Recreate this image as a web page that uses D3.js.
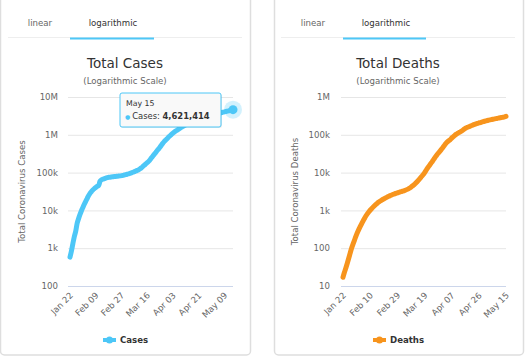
<!DOCTYPE html>
<html><head><meta charset="utf-8">
<script src="https://cdn.jsdelivr.net/npm/d3@7"></script>
<style>
html,body{margin:0;padding:0;background:#fff;}
svg{display:block;font-family:"DejaVu Sans",sans-serif;}
</style></head>
<body><svg id="c" width="526" height="360"></svg>
<script>
// ---- data ----
const startDate = new Date(2020, 0, 22);
const endDate = new Date(2020, 4, 15);
const dates = d3.timeDay.range(startDate, d3.timeDay.offset(endDate, 1));

const cases = [580,845,1317,2015,2800,4581,6058,7813,9823,11950,
14553,17391,20630,24545,28266,31439,34876,37552,40553,43099,
45134,59287,64438,67100,69197,71329,73332,75184,75700,76677,
77673,78651,79205,80087,80828,81820,83112,84615,86604,88585,
90443,93016,95314,98425,102050,106099,109991,114381,118948,126214,
134576,145483,156653,169511,182424,198159,218744,246088,275799,308175,
341585,383750,424889,475706,538666,603066,670723,730300,794939,871355,
947569,1028968,1112123,1192586,1264304,1336976,1413849,1497624,1584249,1671907,
1748872,1845653,1915247,1985174,2066003,2162715,2250439,2324396,2404919,2478258,
2554719,2630314,2719327,2806267,2891199,2964146,3032850,3108149,3185195,3268876,
3355922,3437608,3515244,3600000,3685000,3775000,3868000,3962000,4050000,4130000,
4215000,4300000,4390000,4500000,4621414];

const deaths = [17,23,30,40,54,74,100,128,162,205,
255,310,370,440,520,610,710,810,910,1010,
1110,1220,1330,1440,1550,1660,1770,1870,1970,2070,
2170,2270,2370,2460,2560,2650,2740,2820,2900,2980,
3070,3160,3254,3348,3460,3600,3780,3988,4262,4560,
4900,5350,5819,6440,7126,7905,8733,9867,11299,12973,
14623,16497,18615,21181,23970,27198,30652,33925,37582,42107,
47180,53190,59172,64715,69555,74567,81865,88338,95521,102525,
108503,114091,119482,125983,134176,143000,150800,157500,163500,169987,
176000,182500,188800,195000,200800,206000,211167,217153,222900,228400,
233700,238900,243900,248800,253600,258400,263200,268000,272700,277400,
282100,287000,292000,299000,307666];

const tabLabels = ["linear", "logarithmic"];
const casesXTicks = ["Jan 22","Feb 09","Feb 27","Mar 16","Apr 03","Apr 21","May 09"];
const deathsXTicks = ["Jan 22","Feb 10","Feb 29","Mar 19","Apr 07","Apr 26","May 15"];
const casesYTicks = [100,1e3,1e4,1e5,1e6,1e7];
const casesYLabels = ["100","1k","10k","100k","1M","10M"];
const deathsYTicks = [10,100,1e3,1e4,1e5,1e6];
const deathsYLabels = ["10","100","1k","10k","100k","1M"];

const fmtCat = d3.timeFormat("%b %d");
const fmtTip = d3.timeFormat("%b %-d");

const svg = d3.select("#c");

const panels = [
  {card:[0,250], tabs:[40,113], tabLine:[8,242], under:[70,154], cx:125,
   x0:70, x1:233, axisX:58, titleX:25,
   title:"Total Cases", ytitle:"Total Coronavirus Cases", name:"Cases",
   values:cases, color:"#4dc7f7", xticks:casesXTicks, yticks:casesYTicks, ylabels:casesYLabels,
   legendX:103, tooltip:true},
  {card:[274,523], tabs:[313,386], tabLine:[281,515], under:[343,426], cx:398,
   x0:343, x1:506, axisX:330, titleX:298,
   title:"Total Deaths", ytitle:"Total Coronavirus Deaths", name:"Deaths",
   values:deaths, color:"#f7941d", xticks:deathsXTicks, yticks:deathsYTicks, ylabels:deathsYLabels,
   legendX:373, tooltip:false}
];

const plotTop = 97, plotBottom = 286;

panels.forEach(p => {
  const g = svg.append("g");
  // card
  g.append("rect").attr("x", p.card[0] + 0.5).attr("y", -6).attr("width", p.card[1]-p.card[0]).attr("height", 361)
    .attr("rx", 4).attr("fill", "#fff").attr("stroke", "#dedede").attr("stroke-width", 1.5);
  // tabs
  g.append("line").attr("x1", p.tabLine[0]).attr("x2", p.tabLine[1]).attr("y1", 37.5).attr("y2", 37.5)
    .attr("stroke", "#eeeeee").attr("stroke-width", 1);
  g.append("line").attr("x1", p.under[0]).attr("x2", p.under[1]).attr("y1", 38.5).attr("y2", 38.5)
    .attr("stroke", "#4dc7f7").attr("stroke-width", 2);
  tabLabels.forEach((t,i) => {
    g.append("text").attr("x", p.tabs[i]).attr("y", 26).attr("text-anchor","middle")
      .attr("font-size", 8.6).attr("fill", i ? "#333" : "#666").text(t);
  });
  // titles
  g.append("text").attr("x", p.cx).attr("y", 68).attr("text-anchor","middle")
    .attr("font-size", 13.5).attr("fill", "#333").text(p.title);
  g.append("text").attr("x", p.cx).attr("y", 84).attr("text-anchor","middle")
    .attr("font-size", 8.6).attr("fill", "#666").text("(Logarithmic Scale)");

  const x = d3.scaleLinear().domain([0, p.values.length-1]).range([p.x0, p.x1]);
  const y = d3.scaleLog().domain([p.yticks[0], p.yticks[p.yticks.length-1]]).range([plotBottom, plotTop]);

  // y axis with grid
  const ya = d3.axisLeft(y).tickValues(p.yticks).tickSize(-(p.x1 - p.x0 + 2))
    .tickFormat((d,i) => p.ylabels[i]).tickPadding(10);
  const yg = g.append("g").attr("transform", `translate(${p.x0-2},0)`).call(ya);
  yg.select(".domain").remove();
  yg.selectAll(".tick line").attr("stroke", "#e6e6e6");
  yg.selectAll(".tick line").filter(d => d === p.yticks[0]).attr("stroke", "#ccd6eb");
  yg.selectAll(".tick text").attr("font-size", 8.6).attr("fill", "#666")
    .attr("font-family", "DejaVu Sans").attr("x", p.axisX - (p.x0 - 2));

  // x axis labels
  const tickIdx = p.xticks.map(lbl => dates.findIndex(d => fmtCat(d) === lbl));
  const xa = d3.axisBottom(x).tickValues(tickIdx).tickSize(0).tickFormat((d,i) => p.xticks[i]);
  const xg = g.append("g").attr("transform", `translate(0,${plotBottom})`).call(xa);
  xg.select(".domain").remove();
  xg.selectAll(".tick text").attr("font-size", 8.6).attr("fill", "#666").attr("font-family","DejaVu Sans")
    .attr("text-anchor","end").attr("dy", null).attr("y", 0)
    .attr("transform", "translate(3,10) rotate(-45)");

  // y title
  g.append("text").attr("transform", `translate(${p.titleX},${(plotTop+plotBottom)/2}) rotate(-90)`)
    .attr("text-anchor","middle").attr("font-size", 8.6).attr("fill","#666").text(p.ytitle);

  // line
  const line = d3.line().x((d,i) => x(i)).y(d => y(d)).curve(d3.curveMonotoneX);
  g.append("path").datum(p.values).attr("d", line).attr("fill","none")
    .attr("stroke", p.color).attr("stroke-width", 5).attr("stroke-linejoin","round").attr("stroke-linecap","round");

  // legend
  g.append("line").attr("x1", p.legendX).attr("x2", p.legendX + 13).attr("y1", 340).attr("y2", 340)
    .attr("stroke", p.color).attr("stroke-width", 4);
  g.append("circle").attr("cx", p.legendX + 6.5).attr("cy", 340).attr("r", 3.5).attr("fill", p.color);
  g.append("text").attr("x", p.legendX + 17).attr("y", 343).attr("font-size", 8.6).attr("font-weight","bold")
    .attr("fill", "#333").text(p.name);

  if (p.tooltip) {
    const li = p.values.length - 1;
    const px = x(li), py = y(p.values[li]);
    g.append("circle").attr("cx", px).attr("cy", py).attr("r", 9).attr("fill", p.color).attr("opacity", 0.25);
    g.append("circle").attr("cx", px).attr("cy", py).attr("r", 4.5).attr("fill", p.color);
    const tx = 120, ty = 93, tw = 101, th = 34;
    const tg = g.append("g");
    tg.append("rect").attr("x", tx+1).attr("y", ty+1).attr("width", tw).attr("height", th).attr("rx", 2)
      .attr("fill", "#000").attr("opacity", 0.08);
    tg.append("rect").attr("x", tx).attr("y", ty).attr("width", tw).attr("height", th).attr("rx", 2)
      .attr("fill", "#f9f9f9").attr("stroke", p.color).attr("stroke-width", 1);
    tg.append("text").attr("x", tx + 6).attr("y", ty + 13).attr("font-size", 7.8).attr("fill", "#333")
      .text(fmtTip(dates[li]));
    tg.append("text").attr("x", tx + 5).attr("y", ty + 26).attr("font-size", 8.4).attr("fill", "#333")
      .call(t => {
        t.append("tspan").attr("fill", p.color).attr("font-size", 6).text("\u25CF ");
        t.append("tspan").text(p.name + ": ");
        t.append("tspan").attr("font-weight","bold").text(d3.format(",")(p.values[li]));
      });
  }
});
</script></body></html>
